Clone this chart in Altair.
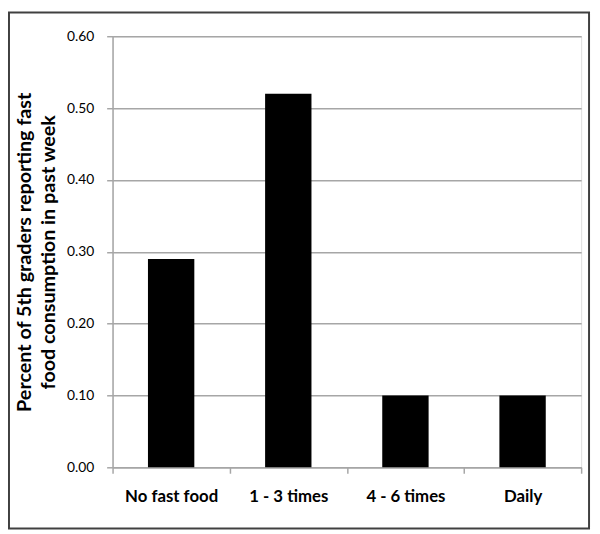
import altair as alt
import pandas as pd

categories = ["No fast food", "1 - 3 times", "4 - 6 times", "Daily"]
values = [0.29, 0.52, 0.10, 0.10]
y_ticks = [0.0, 0.1, 0.2, 0.3, 0.4, 0.5, 0.6]

df = pd.DataFrame({"cat": categories, "val": values})

FONT = "Lato"
GRAY = "#a6a6a6"

bars = alt.Chart(df).mark_bar(color="#000000", size=47).encode(
    x=alt.X(
        "cat:N",
        sort=categories,
        scale=alt.Scale(paddingInner=0, paddingOuter=0),
        axis=alt.Axis(
            title=None,
            labelAngle=0,
            tickBand="extent",
            labelFont=FONT,
            labelFontWeight="bold",
            labelFontSize=17,
            labelColor="#000000",
            labelPadding=16,
            domainColor=GRAY,
            domainWidth=1.5,
            tickColor=GRAY,
            tickWidth=1.5,
            tickSize=6,
            grid=False,
        ),
    ),
    y=alt.Y(
        "val:Q",
        scale=alt.Scale(domain=[0, 0.6], nice=False),
        axis=alt.Axis(
            title=["Percent of 5th graders reporting fast", "food consumption in past week"],
            titleFont=FONT,
            titleFontSize=20,
            titleFontWeight="bold",
            titleColor="#000000",
            titleLineHeight=25,
            titlePadding=8,
            values=y_ticks,
            format=".2f",
            labelFont=FONT,
            labelFontSize=14,
            labelColor="#000000",
            labelPadding=13,
            domainColor=GRAY,
            domainWidth=1.5,
            tickColor=GRAY,
            tickWidth=1.5,
            tickSize=6,
            grid=True,
            gridColor=GRAY,
            gridWidth=1.5,
        ),
    ),
)

frame = alt.Chart(alt.Data(values=[{}])).mark_rect(
    fill=None, stroke="#404040", strokeWidth=2, clip=False
).encode(
    x=alt.value(-105),
    x2=alt.value(483),
    y=alt.value(-24),
    y2=alt.value(499),
)

chart = alt.layer(bars, frame).properties(
    width=475,
    height=437,
    padding={"left": 106, "top": 25, "right": 11, "bottom": 64},
    autosize=alt.AutoSizeParams(type="none"),
).configure_view(stroke=None).configure(background="#ffffff")

chart.save("out.html", embed_options={"renderer": "svg", "actions": False})
